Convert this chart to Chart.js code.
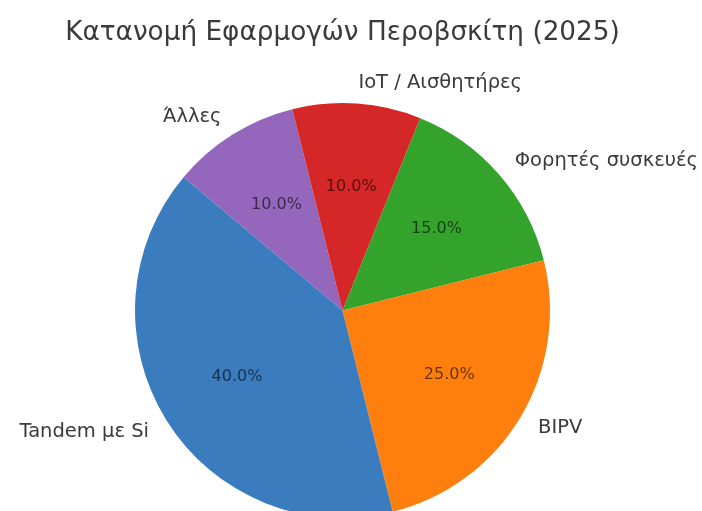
<!DOCTYPE html>
<html>
<head>
<meta charset="utf-8">
<script src="https://cdn.jsdelivr.net/npm/chart.js@4.4.1/dist/chart.umd.min.js"></script>
<style>
  html, body { margin: 0; padding: 0; background: #fff; overflow: hidden; }
  .chartBox { width: 702px; height: 540px; }
</style>
</head>
<body>
<div class="chartBox"><canvas id="chart"></canvas></div>
<script>
// Data
const categories = ["Tandem με Si", "BIPV", "Φορητές συσκευές", "IoT / Αισθητήρες", "Άλλες"];
const shares = [40, 25, 15, 10, 10];
const colors = ["#3a7cbd", "#ff7f0e", "#34a32c", "#d62728", "#9467bd"];

// Chart.js goes clockwise, the original goes counterclockwise
const labels = [...categories].reverse();
const values = [...shares].reverse();
const sliceColors = [...colors].reverse();

// Labels outside, percentages inside
const pieText = {
  id: "pieText",
  afterDatasetsDraw(chart) {
    const ctx = chart.ctx;
    const meta = chart.getDatasetMeta(0);
    const total = values.reduce((a, b) => a + b, 0);
    ctx.save();
    ctx.textBaseline = "middle";
    meta.data.forEach((arc, i) => {
      const p = arc.getProps(["x", "y", "startAngle", "endAngle", "outerRadius"], true);
      const mid = (p.startAngle + p.endAngle) / 2;
      const cx = Math.cos(mid);
      const cy = Math.sin(mid);

      ctx.font = "19.5px 'DejaVu Sans'";
      ctx.fillStyle = "#3a3a3a";
      ctx.textAlign = cx >= 0 ? "left" : "right";
      ctx.fillText(labels[i], p.x + cx * p.outerRadius * 1.1, p.y + cy * p.outerRadius * 1.1);

      ctx.font = "16px 'DejaVu Sans'";
      ctx.fillStyle = "rgba(0, 0, 0, 0.6)";
      ctx.textAlign = "center";
      const pct = ((values[i] / total) * 100).toFixed(1) + "%";
      ctx.fillText(pct, p.x + cx * p.outerRadius * 0.6, p.y + cy * p.outerRadius * 0.6);
    });
    ctx.restore();
  },
};

const config = {
  type: "pie",
  data: {
    labels: labels,
    datasets: [
      {
        data: values,
        backgroundColor: sliceColors,
        borderWidth: 0,
      },
    ],
  },
  options: {
    responsive: true,
    maintainAspectRatio: false,
    animation: false,
    rotation: -50,
    layout: { padding: { top: 0, left: 0, right: 17, bottom: 22 } },
    plugins: {
      legend: { display: false },
      tooltip: { enabled: false },
      title: {
        display: true,
        text: "Κατανομή Εφαρμογών Περοβσκίτη (2025)",
        color: "#3a3a3a",
        font: { family: "'DejaVu Sans'", size: 26.3, weight: "normal" },
        padding: { top: 17, bottom: 54.5 },
      },
    },
  },
  plugins: [pieText],
};

const myChart = new Chart(document.querySelector("#chart"), config);
</script>
</body>
</html>
